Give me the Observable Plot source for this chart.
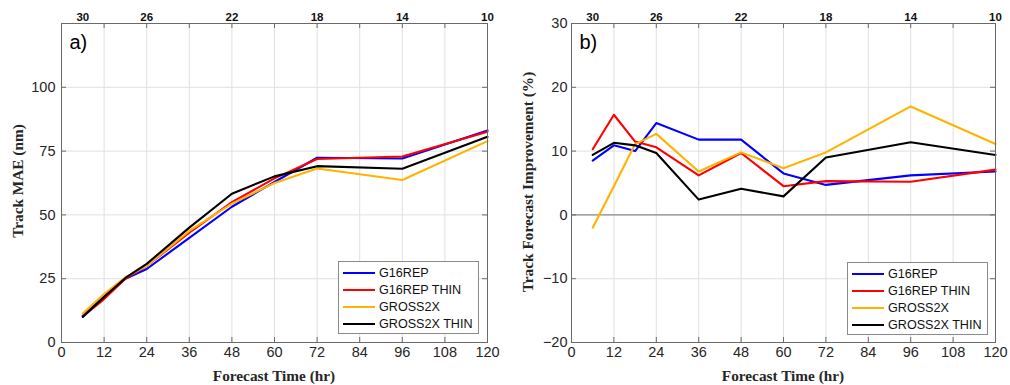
<!DOCTYPE html>
<html>
<head>
<meta charset="utf-8">
<script src="https://cdn.jsdelivr.net/npm/d3@7"></script>
<script src="https://cdn.jsdelivr.net/npm/@observablehq/plot@0.6"></script>
<style>
  html, body { margin: 0; padding: 0; background: #fff; }
  #fig { position: relative; width: 1010px; height: 385px; overflow: hidden; font-family: "Liberation Sans", Arial, sans-serif; }
  .panel { position: absolute; top: 0; }
  .title { position: absolute; font-family: "Liberation Serif", "Times New Roman", serif; font-weight: bold; font-size: 15.3px; color: #262626; white-space: nowrap; transform: translate(-50%, -50%); }
  .ytitle { transform: translate(-50%, -50%) rotate(-90deg); }
  .legend { position: absolute; border: 1px solid #8a8a8a; background: #fff; box-sizing: border-box; }
  .legend .row { position: absolute; left: 0; height: 16px; display: flex; align-items: center; font-size: 12.6px; color: #111; white-space: nowrap; }
  .legend .swatch { width: 32px; height: 2.2px; margin-left: 4px; margin-right: 4px; }
</style>
</head>
<body>
<div id="fig"></div>
<script>
// ---- data ----
const hours = [6, 12, 18, 24, 36, 48, 60, 72, 96, 120];
const seriesNames = ["G16REP", "G16REP THIN", "GROSS2X", "GROSS2X THIN"];
const seriesColors = ["#0000FF", "#FF0000", "#FFB300", "#000000"];

// Panel a) Track MAE (nm)
const maeG16REP      = [10.5, 18.0, 25.0, 28.8, 41.0, 53.2, 62.9, 72.4, 72.1, 83.1];
const maeG16REPThin  = [10.2, 17.0, 25.0, 30.0, 43.0, 55.0, 64.3, 71.9, 72.9, 82.6];
const maeGROSS2X     = [11.4, 19.0, 25.5, 30.0, 43.7, 54.4, 62.5, 68.2, 63.7, 78.9];
const maeGROSS2XThin = [10.0, 17.8, 25.3, 30.8, 45.0, 58.3, 65.1, 69.1, 68.1, 80.6];

// Panel b) Track Forecast Improvement (%)
const impG16REP      = [8.5, 10.9, 10.0, 14.4, 11.8, 11.8, 6.5, 4.7, 6.2, 6.8];
const impG16REPThin  = [10.3, 15.7, 11.5, 10.6, 6.2, 9.7, 4.5, 5.3, 5.2, 7.1];
const impGROSS2X     = [-2.0, 4.5, 11.1, 12.7, 6.8, 9.8, 7.3, 9.8, 17.0, 11.1];
const impGROSS2XThin = [9.4, 11.3, 10.9, 9.7, 2.4, 4.1, 2.9, 9.0, 11.4, 9.4];

// axes
const xTicks = [0, 12, 24, 36, 48, 60, 72, 84, 96, 108, 120];
const topTickHours = [6, 24, 48, 72, 96, 120];
const topTickLabels = [30, 26, 22, 18, 14, 10];
const maeGridY = [0, 25, 50, 75, 100, 125];
const maeTickY = [0, 25, 50, 75, 100];
const impTickY = [-20, -10, 0, 10, 20, 30];

const xLabel = "Forecast Time (hr)";
const maeYLabel = "Track MAE (nm)";
const impYLabel = "Track Forecast Improvement (%)";

// ---- build ----
function toRows(arrays) {
  const rows = [];
  arrays.forEach((arr, s) => arr.forEach((v, i) => rows.push({hour: hours[i], value: v, series: seriesNames[s]})));
  return rows;
}
const topMap = new Map(topTickHours.map((h, i) => [h, topTickLabels[i]]));
const axisColor = "#6a6a6a";
const textColor = "#262626";

function panel({rows, yDomain, gridY, tickY, marginLeft, marginRight, tag, zeroLine, yPad}) {
  const W = 505, H = 385, mt = 23, mb = 43;
  const plotW = W - marginLeft - marginRight;
  const plotH = H - mt - mb;
  const marks = [
    Plot.gridX(xTicks, {stroke: "#e0e0e0", strokeOpacity: 1}),
    Plot.gridY(gridY, {stroke: "#e0e0e0", strokeOpacity: 1}),
  ];
  if (zeroLine) marks.push(Plot.ruleY([0], {stroke: "#8c8c8c", strokeWidth: 1.2}));
  marks.push(
    Plot.line(rows, {x: "hour", y: "value", stroke: "series", strokeWidth: 2.1}),
    Plot.frame({stroke: axisColor}),
    Plot.tickX(xTicks, {x: d => d, insetTop: plotH - 5, stroke: axisColor}),
    Plot.tickX(xTicks, {x: d => d, insetBottom: plotH - 5, stroke: axisColor}),
    Plot.tickY(tickY, {y: d => d, insetRight: plotW - 5, stroke: axisColor}),
    Plot.tickY(tickY, {y: d => d, insetLeft: plotW - 5, stroke: axisColor}),
    Plot.axisX(xTicks, {anchor: "bottom", tickSize: 0, tickPadding: 4, fontSize: 14.5, fill: textColor, label: null}),
    Plot.axisX(topTickHours, {anchor: "top", tickSize: 0, tickPadding: 3, fontSize: 11.5, fontWeight: "bold", fill: "#111",
      tickFormat: d => String(topMap.get(d)), label: null}),
    Plot.axisY(tickY, {anchor: "left", tickSize: 0, tickPadding: yPad, fontSize: 14.5, fill: textColor, label: null}),
    Plot.text([tag], {frameAnchor: "top-left", dx: 8, dy: 11, fontSize: 20, textAnchor: "start", lineAnchor: "top", fill: "#000"})
  );
  return Plot.plot({
    width: W, height: H,
    marginLeft, marginRight, marginTop: mt, marginBottom: mb,
    style: {fontFamily: "'Liberation Sans', Arial, sans-serif", background: "transparent", overflow: "visible"},
    x: {domain: [0, 120]},
    y: {domain: yDomain},
    color: {domain: seriesNames, range: seriesColors},
    marks
  });
}

const fig = document.getElementById("fig");

function addPanel(svg, left) {
  const wrap = document.createElement("div");
  wrap.className = "panel";
  wrap.style.left = left + "px";
  wrap.appendChild(svg);
  fig.appendChild(wrap);
}

addPanel(panel({rows: toRows([maeG16REP, maeG16REPThin, maeGROSS2X, maeGROSS2XThin]),
  yDomain: [0, 125], gridY: maeGridY, tickY: maeTickY, marginLeft: 61, marginRight: 18, tag: "a)", zeroLine: false, yPad: 6}), 0);
addPanel(panel({rows: toRows([impG16REP, impG16REPThin, impGROSS2X, impGROSS2XThin]),
  yDomain: [-20, 30], gridY: impTickY, tickY: impTickY, marginLeft: 66, marginRight: 15, tag: "b)", zeroLine: true, yPad: 4}), 505);

function addTitle(text, x, y, rotate) {
  const d = document.createElement("div");
  d.className = "title" + (rotate ? " ytitle" : "");
  d.style.left = x + "px";
  d.style.top = y + "px";
  d.textContent = text;
  fig.appendChild(d);
}
addTitle(xLabel, 274, 376, false);
addTitle(xLabel, 783, 376, false);
addTitle(maeYLabel, 18, 181, true);
addTitle(impYLabel, 528, 182, true);

function addLegend(left, top) {
  const lg = document.createElement("div");
  lg.className = "legend";
  lg.style.left = left + "px";
  lg.style.top = top + "px";
  lg.style.width = "141px";
  lg.style.height = "73px";
  seriesNames.forEach((name, i) => {
    const row = document.createElement("div");
    row.className = "row";
    row.style.top = (3 + i * 17) + "px";
    const sw = document.createElement("div");
    sw.className = "swatch";
    sw.style.background = seriesColors[i];
    const tx = document.createElement("span");
    tx.textContent = name;
    row.appendChild(sw);
    row.appendChild(tx);
    lg.appendChild(row);
  });
  fig.appendChild(lg);
}
addLegend(338, 261);
addLegend(847, 262);
</script>
</body>
</html>
